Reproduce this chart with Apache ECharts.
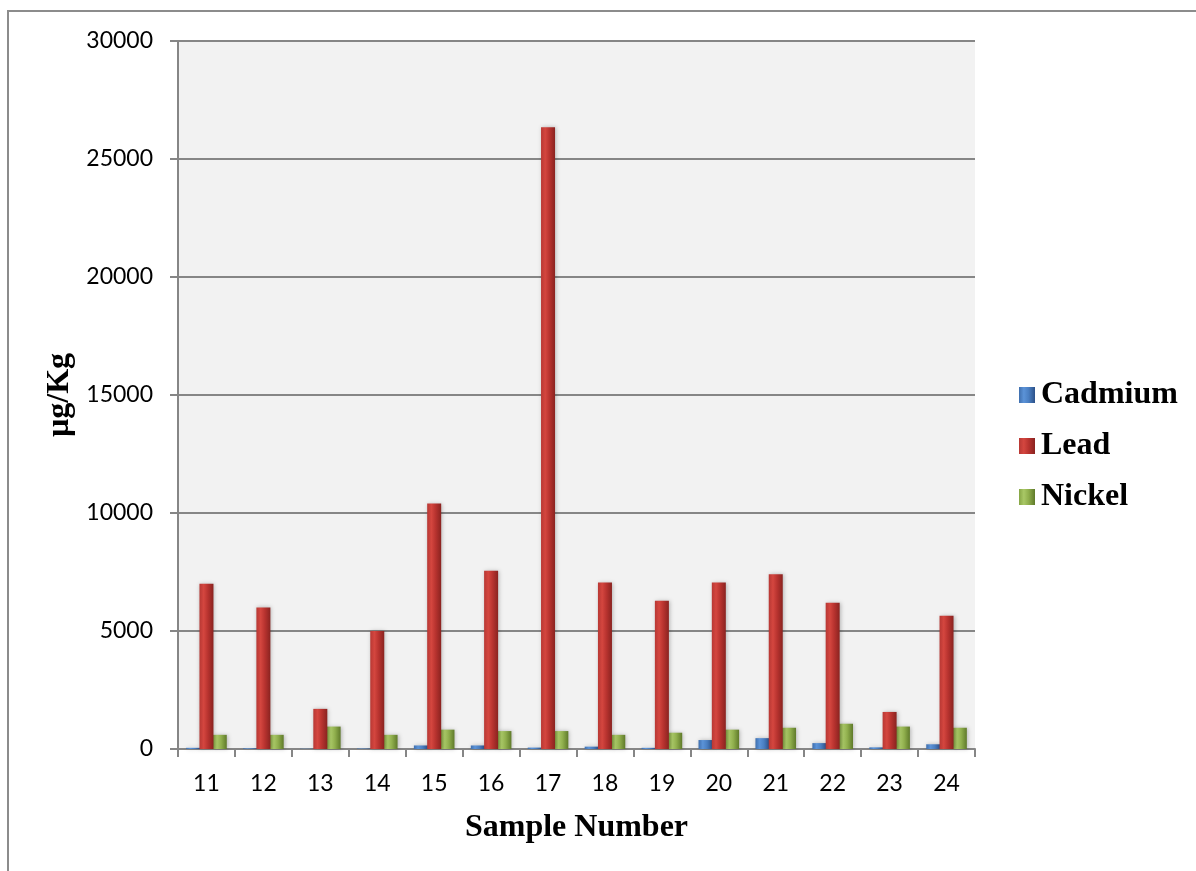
<!DOCTYPE html>
<html>
<head>
<meta charset="utf-8">
<script src="https://cdn.jsdelivr.net/npm/echarts@6/dist/echarts.min.js"></script>
<style>
  html, body { margin: 0; padding: 0; background: #ffffff; }
  #chart { width: 1196px; height: 871px; }
</style>
</head>
<body>
<div id="chart"></div>
<script>
// Heavy-metal concentrations per sample (µg/Kg)
const samples = ['11', '12', '13', '14', '15', '16', '17', '18', '19', '20', '21', '22', '23', '24'];
const cadmium = [50, 30, 10, 20, 150, 150, 60, 100, 50, 380, 460, 250, 70, 200];
const lead    = [7000, 6000, 1700, 5000, 10400, 7550, 26350, 7050, 6280, 7050, 7400, 6200, 1570, 5650];
const nickel  = [600, 600, 950, 600, 820, 760, 760, 600, 690, 820, 900, 1070, 950, 900];
const yTicks = { min: 0, max: 30000, interval: 5000 };

// Cylinder-like shading across each bar
function shade(edge, light, mid, dark) {
  return new echarts.graphic.LinearGradient(0, 0, 1, 0, [
    { offset: 0, color: edge },
    { offset: 0.3, color: light },
    { offset: 0.6, color: mid },
    { offset: 1, color: dark }
  ]);
}

const blue  = shade('#3f6fae', '#5b93d8', '#4a7fc2', '#2c5189');
const red   = shade('#b83834', '#d4463f', '#b8332f', '#8a2320');
const green = shade('#86a545', '#a9c866', '#8fae4c', '#5f7a2a');

const chart = echarts.init(document.getElementById('chart'));
const gridColor = '#868686';

function barSeries(name, data, color, z) {
  return {
    name: name,
    type: 'bar',
    data: data,
    barWidth: 14,
    barGap: '-5%',
    z: z,
    itemStyle: {
      color: color,
      shadowColor: 'rgba(0,0,0,0.25)', shadowBlur: 4, shadowOffsetX: 1
    },
    emphasis: { disabled: true }
  };
}

chart.setOption({
  animation: false,
  backgroundColor: '#ffffff',
  graphic: [{
    type: 'rect',
    shape: { x: 8, y: 11, width: 1300, height: 1000 },
    style: { fill: 'none', stroke: '#8c8c8c', lineWidth: 2 },
    silent: true
  }],
  grid: {
    left: 178, top: 41, right: 221, bottom: 122,
    show: true, backgroundColor: '#f2f2f2', borderWidth: 0
  },
  legend: {
    orient: 'vertical',
    left: 1019, top: 377,
    padding: 0,
    icon: 'rect',
    itemWidth: 16, itemHeight: 16,
    itemGap: 15,
    textStyle: {
      fontFamily: 'Liberation Serif', fontWeight: 'bold',
      fontSize: 32, color: '#000000', lineHeight: 36, padding: [0, 0, 0, 1]
    },
    data: ['Cadmium', 'Lead', 'Nickel']
  },
  xAxis: {
    type: 'category',
    data: samples,
    name: 'Sample Number',
    nameLocation: 'middle',
    nameGap: 63,
    nameTextStyle: { fontFamily: 'Liberation Serif', fontWeight: 'bold', fontSize: 32, color: '#000000' },
    axisLine: { lineStyle: { color: gridColor, width: 2 } },
    axisTick: { show: true, length: 8, lineStyle: { color: gridColor, width: 2 } },
    axisLabel: { fontFamily: 'Lato', fontSize: 23, color: '#000000', margin: 23 }
  },
  yAxis: {
    type: 'value',
    min: yTicks.min, max: yTicks.max, interval: yTicks.interval,
    name: 'µg/Kg',
    nameLocation: 'middle',
    nameGap: 99,
    nameRotate: 90,
    nameTextStyle: { fontFamily: 'Liberation Serif', fontWeight: 'bold', fontSize: 32, color: '#000000' },
    axisLine: { show: true, lineStyle: { color: gridColor, width: 2 } },
    axisTick: { show: true, length: 8, lineStyle: { color: gridColor, width: 2 } },
    axisLabel: {
      fontFamily: 'Lato', fontSize: 23, color: '#000000', margin: 25,
      formatter: function (v) { return String(v); }
    },
    splitLine: { show: true, lineStyle: { color: gridColor, width: 2 } }
  },
  series: [
    barSeries('Cadmium', cadmium, blue, 2),
    barSeries('Lead', lead, red, 3),
    barSeries('Nickel', nickel, green, 2)
  ]
});
</script>
</body>
</html>
